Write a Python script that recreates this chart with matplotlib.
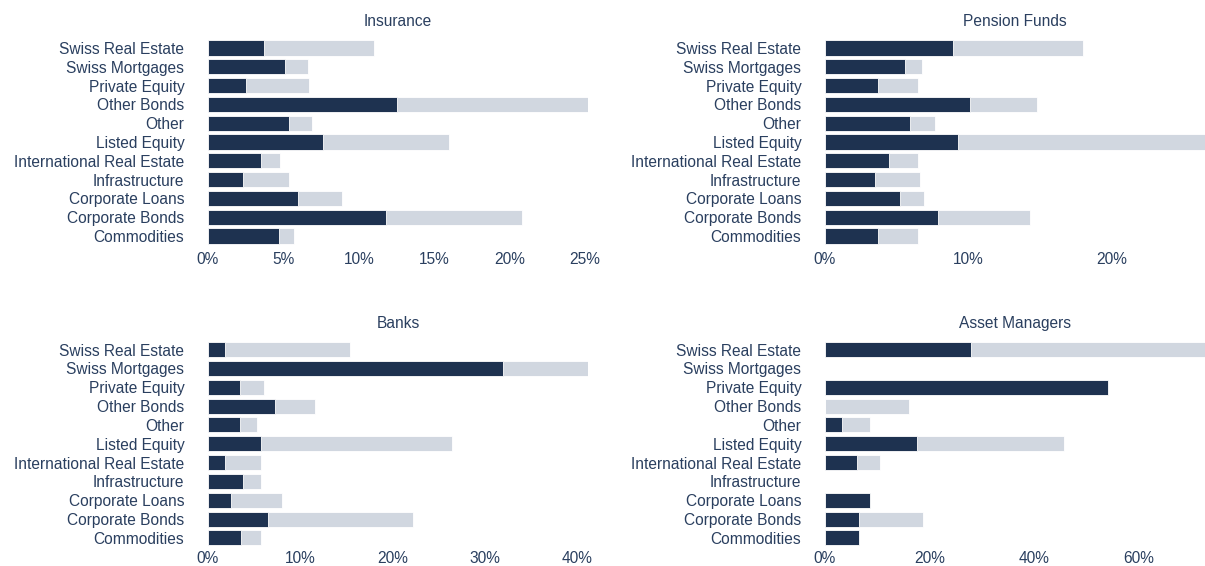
import matplotlib.pyplot as plt
from matplotlib.ticker import FuncFormatter

plt.rcParams['font.family'] = ['Liberation Sans', 'DejaVu Sans']

categories = ["Swiss Real Estate", "Swiss Mortgages", "Private Equity", "Other Bonds",
              "Other", "Listed Equity", "International Real Estate", "Infrastructure",
              "Corporate Loans", "Corporate Bonds", "Commodities"]

# dark = inner bar, light = outer bar (both in %)
insurance_dark = [3.7, 5.1, 2.5, 12.5, 5.4, 7.6, 3.5, 2.3, 6.0, 11.8, 4.7]
insurance_light = [11.0, 6.6, 6.7, 25.2, 6.9, 16.0, 4.8, 5.4, 8.9, 20.8, 5.7]

pension_dark = [8.9, 5.6, 3.7, 10.1, 5.9, 9.3, 4.5, 3.5, 5.2, 7.9, 3.7]
pension_light = [18.0, 6.8, 6.5, 14.8, 7.7, 26.5, 6.5, 6.6, 6.9, 14.3, 6.5]

banks_dark = [1.8, 32.0, 3.5, 7.3, 3.5, 5.7, 1.8, 3.8, 2.5, 6.5, 3.6]
banks_light = [15.4, 41.2, 6.1, 11.6, 5.3, 26.5, 5.7, 5.7, 8.0, 22.2, 5.7]

am_dark = [28.0, 0, 54.1, 0, 3.3, 17.7, 6.2, 0, 8.6, 6.6, 6.6]
am_light = [72.7, 0, 0, 16.1, 8.7, 45.7, 10.6, 0, 0, 18.7, 0]

panels = [
    ("Insurance", insurance_dark, insurance_light, [0, 5, 10, 15, 20, 25]),
    ("Pension Funds", pension_dark, pension_light, [0, 10, 20]),
    ("Banks", banks_dark, banks_light, [0, 10, 20, 30, 40]),
    ("Asset Managers", am_dark, am_light, [0, 20, 40, 60]),
]

DARK = "#1e3250"
LIGHT = "#d1d7e0"
TEXT = "#2a3f5f"

fig = plt.figure(figsize=(12.05, 5.66), dpi=100)
positions = [
    [0.1726, 0.5664, 0.3154, 0.3654],
    [0.6846, 0.5664, 0.3154, 0.3654],
    [0.1726, 0.0330, 0.3154, 0.3660],
    [0.6846, 0.0330, 0.3154, 0.3660],
]

for i, ((title, dark, light, ticks), pos) in enumerate(zip(panels, positions)):
    ax = fig.add_axes(pos)
    y = range(len(categories))
    ax.barh(y, light, height=0.8, color=LIGHT, edgecolor="white", linewidth=0.6)
    ax.barh(y, dark, height=0.8, color=DARK, edgecolor="white", linewidth=0.6)
    ax.set_yticks(list(y))
    ax.set_yticklabels(categories)
    ax.set_ylim(len(categories) - 0.5, -0.5)
    ax.set_xlim(0, max(max(light), max(dark)))
    ax.set_xticks(ticks)
    ax.xaxis.set_major_formatter(FuncFormatter(lambda v, p: f"{v:.0f}%"))
    ax.tick_params(axis="y", length=0, pad=17, labelsize=11.2, labelcolor=TEXT)
    ax.tick_params(axis="x", length=0, pad=5 if i < 2 else 2.5,
                   labelsize=11.2, labelcolor=TEXT)
    for s in ax.spines.values():
        s.set_visible(False)
    ax.set_title(title, fontsize=11.2, color=TEXT, pad=9)

fig.savefig("out.png", dpi=100)
